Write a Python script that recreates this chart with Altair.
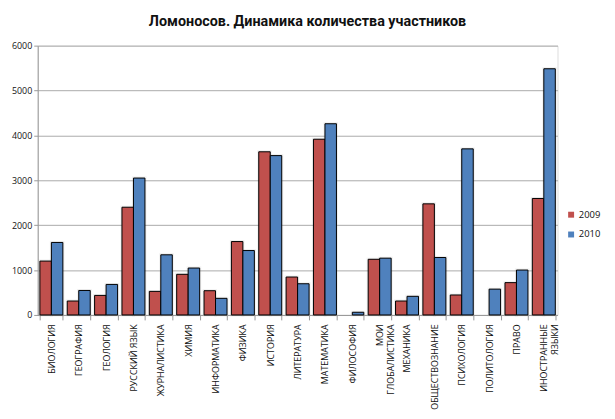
import altair as alt
import pandas as pd

subjects = ["БИОЛОГИЯ", "ГЕОГРАФИЯ", "ГЕОЛОГИЯ", "РУССКИЙ ЯЗЫК", "ЖУРНАЛИСТИКА",
            "ХИМИЯ", "ИНФОРМАТИКА", "ФИЗИКА", "ИСТОРИЯ", "ЛИТЕРАТУРА",
            "МАТЕМАТИКА", "ФИЛОСОФИЯ", "МОИ|ГЛОБАЛИСТИКА", "МЕХАНИКА",
            "ОБЩЕСТВОЗНАНИЕ", "ПСИХОЛОГИЯ", "ПОЛИТОЛОГИЯ", "ПРАВО",
            "ИНОСТРАННЫЕ|ЯЗЫКИ"]
v2009 = [1200, 310, 435, 2400, 525, 905, 540, 1635, 3635, 845, 3915, None,
         1240, 310, 2475, 445, None, 720, 2595]
v2010 = [1615, 545, 680, 3050, 1340, 1045, 370, 1435, 3550, 695, 4260, 60,
         1265, 415, 1280, 3700, 575, 1000, 5485]
years = ["2009", "2010"]
colors = ["#C0504D", "#4F81BD"]
y_ticks = [0, 1000, 2000, 3000, 4000, 5000, 6000]

rows = []
for s, a, b in zip(subjects, v2009, v2010):
    if a is not None:
        rows.append({"subject": s, "year": years[0], "value": a})
    if b is not None:
        rows.append({"subject": s, "year": years[1], "value": b})
df = pd.DataFrame(rows)

font = "Open Sans"

x = alt.X("subject:N", sort=subjects, title=None,
          scale=alt.Scale(paddingInner=0.16, paddingOuter=0.08),
          axis=alt.Axis(labelAngle=270, labelExpr="split(datum.label, '|')",
                        labelFont=font, labelFontSize=9, labelColor="#111",
                        tickBand="extent", tickSize=5, tickColor="#999",
                        domainColor="#999", labelPadding=4, labelLineHeight=11,
                        labelLimit=200))
y = alt.Y("value:Q", title=None,
          scale=alt.Scale(domain=[0, 6000], nice=False),
          axis=alt.Axis(values=y_ticks, format="d", grid=True, gridColor="#aaa",
                        domainColor="#999", tickColor="#999", tickSize=4,
                        labelFont=font, labelFontSize=9, labelColor="#111",
                        labelPadding=2))
color = alt.Color("year:N", scale=alt.Scale(domain=years, range=colors),
                  legend=alt.Legend(title=None, orient="none", legendX=534,
                                    legendY=166, symbolType="square",
                                    symbolSize=36, symbolStrokeWidth=0,
                                    labelFont=font, labelFontSize=9.5,
                                    labelOffset=3, rowPadding=9,
                                    labelColor="#111"))

shadow = alt.Chart(df).mark_bar(fill="#888", opacity=0.35, stroke="#888",
                                strokeWidth=3, strokeOpacity=0.35).encode(
    x=x, xOffset=alt.XOffset("year:N", sort=years), y=y)

bars = alt.Chart(df).mark_bar(stroke="#000", strokeWidth=1).encode(
    x=x, xOffset=alt.XOffset("year:N", sort=years), y=y, color=color)

chart = alt.layer(shadow, bars).properties(
    width=525, height=272,
    title=alt.TitleParams("Ломоносов. Динамика количества  участников",
                          font="Roboto", fontSize=14.5, fontWeight="bold",
                          color="#111", anchor="middle", offset=12, dx=10),
    autosize=alt.AutoSizeParams(type="none"),
    padding={"left": 30, "top": 36, "right": 50, "bottom": 95},
).configure_view(stroke=None).configure(background="white")

chart.save("out.html", embed_options={"renderer": "svg", "actions": False})
